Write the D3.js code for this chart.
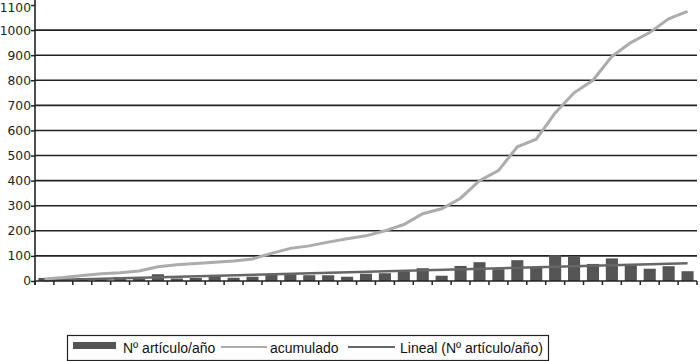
<!DOCTYPE html>
<html>
<head>
<meta charset="utf-8">
<script src="https://cdn.jsdelivr.net/npm/d3@7"></script>
<style>
  body { margin: 0; background: #fff; }
  svg { display: block; }
</style>
</head>
<body>
<svg></svg>
<script>
// one category per bar, no labels on the x axis in the original
var categories = ["1","2","3","4","5","6","7","8","9","10","11","12","13","14","15","16","17","18",
                  "19","20","21","22","23","24","25","26","27","28","29","30","31","32","33","34","35"];

// Nº artículo/año
var articulos = [12, 10, 12, 10, 16, 9, 27, 10, 12, 17, 13, 17, 28, 28, 23, 23, 17, 29,
                 31, 41, 51, 21, 60, 75, 47, 83, 53, 103, 96, 68, 90, 63, 49, 59, 39];

// acumulado
var acumulado = [8, 14, 22, 29, 33, 40, 57, 65, 70, 75, 80, 88, 110, 130, 140, 155, 168, 180,
                 200, 225, 268, 288, 330, 400, 440, 535, 565, 670, 750, 800, 895, 950, 990, 1045, 1075];

// Lineal (Nº artículo/año): value at first and last category
var lineal = [3, 71];

var yTicks = [0, 100, 200, 300, 400, 500, 600, 700, 800, 900, 1000, 1100];

var legendItems = ["Nº artículo/año", "acumulado", "Lineal (Nº artículo/año)"];

var svgwidth = 700;
var svgheight = 361;

var svg = d3.select('svg').attr('width', svgwidth).attr('height', svgheight);

var margins = { top: 5, bottom: 80, left: 35, right: 3 };

var xScale = d3.scaleBand()
               .domain(categories)
               .range([margins.left, svgwidth - margins.right])
               .paddingInner(0.36)
               .paddingOuter(0.18);

var yScale = d3.scaleLinear()
               .domain([0, 1100])
               .range([svgheight - margins.bottom, margins.top]);

var cx = function(c){ return xScale(c) + xScale.bandwidth()/2; };

// gridlines
svg.append('g').classed('grid', true)
   .selectAll('line')
   .data(yTicks.filter(function(d){ return d > 0 && d < 1100; }))
   .enter().append('line')
   .attr('x1', margins.left)
   .attr('x2', svgwidth - margins.right)
   .attr('y1', function(d){ return yScale(d); })
   .attr('y2', function(d){ return yScale(d); })
   .attr('stroke', '#222')
   .attr('stroke-width', 1.6);

// bars
svg.append('g').classed('bars', true)
   .selectAll('rect')
   .data(articulos)
   .enter().append('rect')
   .attr('x', function(d, i){ return xScale(categories[i]); })
   .attr('width', xScale.bandwidth())
   .attr('y', function(d){ return yScale(d); })
   .attr('height', function(d){ return yScale(0) - yScale(d); })
   .attr('fill', '#555');

// trend line
var first = categories[0], last = categories[categories.length - 1];
svg.append('line')
   .attr('x1', cx(first)).attr('y1', yScale(lineal[0]))
   .attr('x2', cx(last)).attr('y2', yScale(lineal[1]))
   .attr('stroke', '#666')
   .attr('stroke-width', 2.5);

// cumulative line
var line = d3.line()
             .x(function(d, i){ return cx(categories[i]); })
             .y(function(d){ return yScale(d); });

svg.append('path')
   .datum(acumulado)
   .attr('d', line)
   .attr('fill', 'none')
   .attr('stroke', '#acacac')
   .attr('stroke-width', 3);

// y axis
var yAxis = d3.axisLeft(yScale).tickValues(yTicks).tickFormat(d3.format('d')).tickSize(4).tickPadding(0);
var yg = svg.append('g').classed('yAxis', true)
   .attr('transform', 'translate(' + margins.left + ',0)')
   .call(yAxis);
yg.select('.domain').remove();
yg.selectAll('line').attr('stroke', '#222').attr('stroke-width', 1.5);
yg.selectAll('text')
  .attr('font-family', 'DejaVu Sans, sans-serif')
  .attr('font-size', 12.3)
  .attr('fill', '#222');
// top label sits at the very edge, nudge it into view
yg.selectAll('.tick').filter(function(d){ return d === 1100; })
  .select('text').attr('dy', '0.55em');
svg.append('line')
   .attr('x1', margins.left).attr('x2', margins.left)
   .attr('y1', 0).attr('y2', yScale(0) + 4)
   .attr('stroke', '#222').attr('stroke-width', 1.6);

// x axis: ticks at category boundaries
var bounds = categories.map(function(c){ return xScale(c) - xScale.step()*xScale.paddingInner()/2; });
bounds.push(svgwidth - margins.right);
svg.append('line')
   .attr('x1', margins.left).attr('x2', svgwidth - margins.right)
   .attr('y1', yScale(0)).attr('y2', yScale(0))
   .attr('stroke', '#222').attr('stroke-width', 1.6);
svg.append('g').classed('xAxis', true)
   .selectAll('line')
   .data(bounds)
   .enter().append('line')
   .attr('x1', function(d){ return d; }).attr('x2', function(d){ return d; })
   .attr('y1', yScale(0)).attr('y2', yScale(0) + 4)
   .attr('stroke', '#222').attr('stroke-width', 1.5);

// legend
var legend = svg.append('g').classed('legend', true);
legend.append('rect')
      .attr('x', 67.5).attr('y', 335.5)
      .attr('width', 481).attr('height', 25)
      .attr('fill', '#fff').attr('stroke', '#222').attr('stroke-width', 1.2);
legend.append('rect')
      .attr('x', 73).attr('y', 342).attr('width', 43).attr('height', 7)
      .attr('fill', '#555');
legend.append('line')
      .attr('x1', 221).attr('x2', 267).attr('y1', 347).attr('y2', 347)
      .attr('stroke', '#acacac').attr('stroke-width', 2);
legend.append('line')
      .attr('x1', 348).attr('x2', 395).attr('y1', 347).attr('y2', 347)
      .attr('stroke', '#666').attr('stroke-width', 2);
legend.selectAll('text')
      .data(legendItems)
      .enter().append('text')
      .attr('x', function(d, i){ return [123, 270, 400][i]; })
      .attr('y', 352.5)
      .attr('font-family', 'Liberation Sans, Arial, sans-serif')
      .attr('font-size', 14)
      .attr('fill', '#111')
      .text(function(d){ return d; });
</script>
</body>
</html>
